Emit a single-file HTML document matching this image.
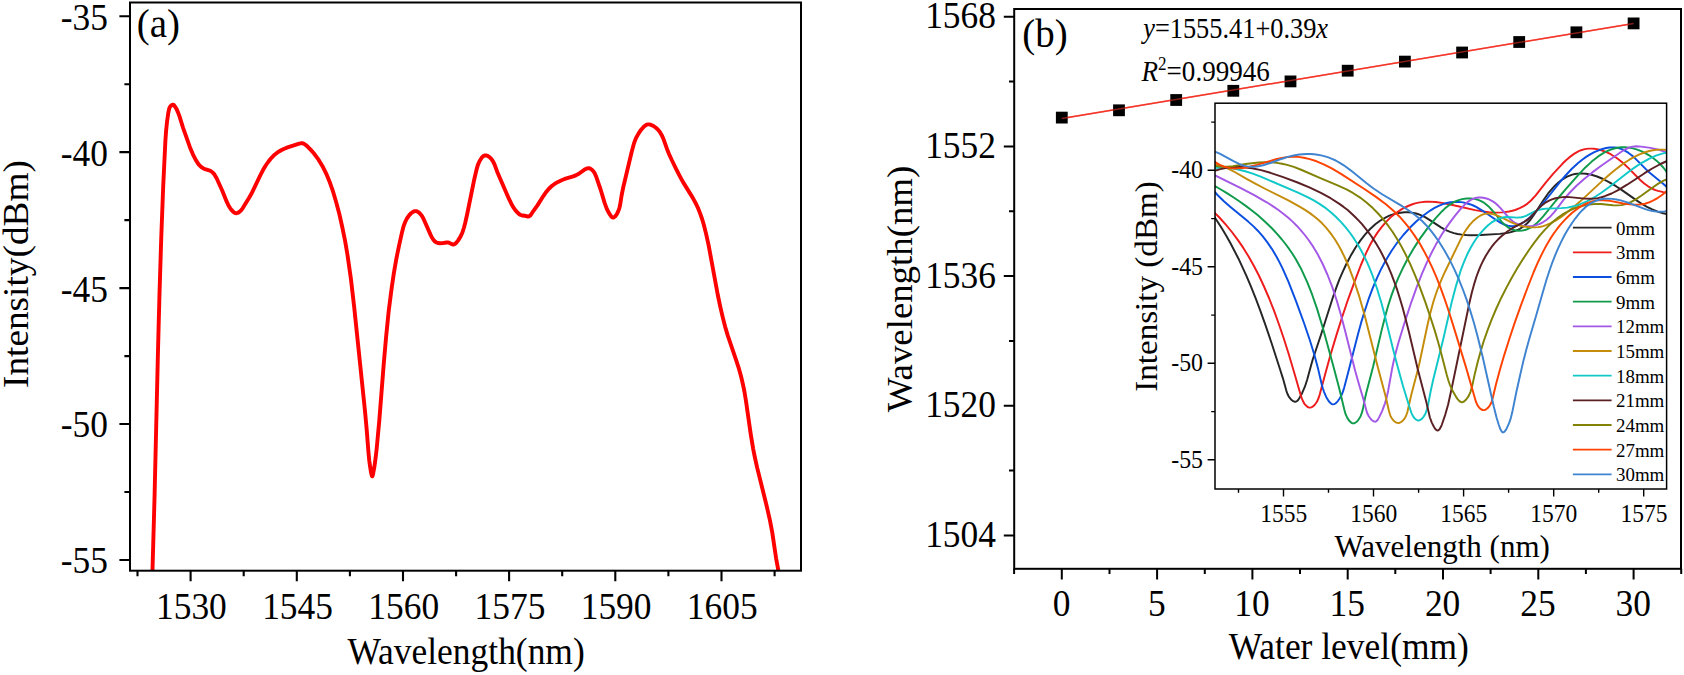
<!DOCTYPE html>
<html lang="en"><head><meta charset="utf-8"><title>Figure</title>
<style>html,body{margin:0;padding:0;background:#fff;overflow:hidden}svg{display:block}</style>
</head><body>
<svg width="1684" height="675" viewBox="0 0 1684 675" font-family="Liberation Serif, Times New Roman, serif" fill="#000">
<rect width="1684" height="675" fill="#fff"/>
<clipPath id="ca"><rect x="130.0" y="2.5" width="671.0" height="568.2"/></clipPath>
<path clip-path="url(#ca)" d="M152.5,570.0 L154.6,495.0 L157.9,354.3 L159.4,297.3 L161.2,238.9 L163.2,186.2 L165.4,140.6 L166.1,130.8 L167.0,122.1 L168.2,113.4 L169.2,108.6 L169.8,107.2 L170.7,106.0 L171.8,105.0 L172.8,104.7 L173.3,104.8 L173.9,105.1 L174.8,106.2 L176.5,108.9 L177.9,112.1 L179.5,116.3 L183.1,127.8 L190.0,147.4 L193.0,154.6 L196.0,160.4 L198.6,164.3 L200.1,165.9 L201.5,167.2 L203.0,168.2 L204.3,168.8 L209.0,170.3 L210.7,171.0 L212.7,172.5 L214.4,174.4 L216.5,178.0 L222.2,190.5 L226.7,201.7 L228.5,205.5 L230.1,208.1 L231.7,210.2 L233.3,211.9 L234.8,212.9 L235.8,213.2 L236.5,213.2 L237.6,212.9 L238.7,212.4 L240.9,210.6 L242.8,208.1 L248.8,198.3 L251.4,193.8 L260.0,175.9 L263.0,170.1 L265.7,165.5 L268.5,161.5 L271.5,157.8 L274.6,154.7 L278.1,152.0 L281.6,150.0 L284.3,148.7 L287.6,147.4 L299.2,143.7 L301.7,143.2 L302.7,143.3 L303.7,143.6 L305.5,144.8 L307.8,146.8 L310.8,149.9 L313.8,153.3 L316.3,156.6 L318.7,159.9 L323.1,167.3 L326.7,174.7 L330.0,182.8 L333.1,191.7 L336.2,202.3 L339.4,214.3 L342.3,227.2 L345.1,240.9 L347.5,255.0 L350.9,278.8 L354.2,307.3 L364.8,409.1 L366.6,428.5 L368.5,452.7 L369.2,460.3 L370.1,466.6 L371.0,472.3 L371.7,475.3 L372.0,476.1 L372.3,476.3 L372.6,475.8 L373.0,474.4 L374.4,466.7 L375.6,458.1 L376.7,448.4 L379.3,420.5 L383.9,361.8 L386.1,337.0 L388.7,311.0 L391.7,287.8 L393.9,272.9 L396.4,258.5 L399.2,244.9 L402.1,231.9 L403.5,226.4 L405.1,222.2 L406.9,218.5 L409.1,215.4 L410.7,213.6 L412.2,212.4 L413.5,211.6 L414.8,211.1 L416.1,211.1 L417.1,211.4 L418.5,212.2 L419.7,213.3 L421.8,215.8 L423.5,218.7 L430.5,234.6 L431.9,237.5 L433.8,240.3 L434.8,241.4 L435.9,242.2 L437.8,243.0 L440.0,243.3 L442.7,243.1 L446.5,242.5 L447.9,242.4 L449.4,242.9 L452.2,244.3 L453.2,244.5 L454.2,244.3 L455.4,243.6 L456.5,242.5 L458.0,240.6 L460.5,236.6 L462.4,232.5 L464.0,227.5 L465.3,222.5 L467.2,214.0 L474.3,179.2 L476.4,170.1 L477.8,165.1 L479.5,161.2 L481.7,157.7 L482.8,156.6 L483.7,155.9 L484.6,155.5 L485.6,155.4 L486.6,155.5 L487.6,155.8 L489.5,157.1 L491.5,159.1 L493.0,161.3 L494.5,164.4 L497.4,172.2 L500.3,179.1 L509.1,199.2 L511.3,203.7 L513.5,207.6 L515.7,210.6 L518.3,213.3 L519.4,214.3 L520.7,215.0 L522.1,215.5 L525.1,215.8 L528.0,216.5 L529.0,216.4 L530.1,215.7 L531.1,214.5 L533.5,210.8 L537.6,205.1 L543.5,195.8 L546.4,191.7 L548.3,189.4 L550.2,187.5 L552.1,185.8 L554.2,184.2 L558.0,181.9 L562.1,180.0 L565.6,178.7 L573.2,176.4 L576.3,175.1 L579.2,173.5 L585.2,169.2 L586.9,168.4 L588.7,168.1 L590.5,168.7 L592.0,169.8 L593.6,171.5 L594.8,173.4 L596.0,176.2 L600.6,189.5 L604.7,203.1 L606.8,208.8 L608.7,212.6 L610.9,216.0 L611.6,216.9 L612.4,217.4 L613.2,217.6 L613.7,217.5 L615.1,216.5 L616.7,214.4 L618.2,211.3 L619.3,208.3 L620.1,205.0 L621.6,195.5 L623.2,187.5 L631.7,151.7 L633.9,143.7 L635.0,140.6 L636.3,137.5 L638.5,133.6 L640.8,130.1 L643.6,127.0 L644.8,125.9 L646.0,125.1 L647.0,124.6 L648.0,124.4 L649.2,124.4 L650.3,124.6 L652.9,125.7 L655.6,127.5 L657.3,129.0 L658.8,130.6 L660.3,132.7 L661.6,134.9 L663.6,139.3 L666.9,148.7 L669.0,154.0 L672.0,160.5 L676.3,169.3 L679.9,176.3 L682.9,181.9 L692.5,197.4 L696.1,204.0 L698.3,208.7 L700.2,213.6 L702.1,219.0 L703.8,224.7 L706.1,233.9 L708.7,245.7 L717.8,295.0 L720.3,306.8 L722.7,317.1 L725.1,326.6 L727.8,335.6 L736.3,360.7 L739.0,368.9 L741.1,376.5 L742.9,384.2 L744.5,392.0 L745.9,400.5 L750.8,434.6 L753.2,449.1 L755.0,458.0 L757.2,467.9 L766.5,505.2 L770.0,520.6 L772.2,532.1 L776.1,558.3 L778.3,570.1" fill="none" stroke="#ff0000" stroke-width="3.9" stroke-linejoin="round" stroke-linecap="butt"/>
<rect x="130.0" y="2.5" width="671.0" height="568.2" fill="none" stroke="#000" stroke-width="2.0"/>
<path d="M190.6,570.7 v10.6 M296.8,570.7 v10.6 M403.0,570.7 v10.6 M509.1,570.7 v10.6 M615.3,570.7 v10.6 M721.5,570.7 v10.6 M137.5,570.7 v5.6 M243.7,570.7 v5.6 M349.9,570.7 v5.6 M456.1,570.7 v5.6 M562.2,570.7 v5.6 M668.4,570.7 v5.6 M774.6,570.7 v5.6 M130.0,16.2 h-10.6 M130.0,152.1 h-10.6 M130.0,288.1 h-10.6 M130.0,424.0 h-10.6 M130.0,560.0 h-10.6 M130.0,84.2 h-5.6 M130.0,220.1 h-5.6 M130.0,356.1 h-5.6 M130.0,492.0 h-5.6" stroke="#000" stroke-width="2.1" fill="none"/>
<text transform="translate(191.40,619.00) scale(0.9500,1.0250)" font-size="37.3" text-anchor="middle" >1530</text>
<text transform="translate(297.58,619.00) scale(0.9500,1.0250)" font-size="37.3" text-anchor="middle" >1545</text>
<text transform="translate(403.76,619.00) scale(0.9500,1.0250)" font-size="37.3" text-anchor="middle" >1560</text>
<text transform="translate(509.94,619.00) scale(0.9500,1.0250)" font-size="37.3" text-anchor="middle" >1575</text>
<text transform="translate(616.12,619.00) scale(0.9500,1.0250)" font-size="37.3" text-anchor="middle" >1590</text>
<text transform="translate(722.30,619.00) scale(0.9500,1.0250)" font-size="37.3" text-anchor="middle" >1605</text>
<text transform="translate(108.00,29.60) scale(0.9500,1.0250)" font-size="37.3" text-anchor="end" >-35</text>
<text transform="translate(108.00,165.55) scale(0.9500,1.0250)" font-size="37.3" text-anchor="end" >-40</text>
<text transform="translate(108.00,301.50) scale(0.9500,1.0250)" font-size="37.3" text-anchor="end" >-45</text>
<text transform="translate(108.00,437.45) scale(0.9500,1.0250)" font-size="37.3" text-anchor="end" >-50</text>
<text transform="translate(108.00,573.40) scale(0.9500,1.0250)" font-size="37.3" text-anchor="end" >-55</text>
<text transform="translate(347.50,664.30) scale(0.9500,1.0250)" font-size="37.3" text-anchor="start" >Wavelength(nm)</text>
<text transform="translate(27.80,388.00) rotate(-90) scale(1.0000,0.9350)" font-size="37.3" text-anchor="start" >Intensity(dBm)</text>
<text transform="translate(136.80,37.00) scale(0.9850,1.0000)" font-size="39.5" text-anchor="start" >(a)</text>
<rect x="1014.2" y="9.0" width="666.8" height="559.8" fill="none" stroke="#000" stroke-width="2.0"/>
<path d="M1061.8,568.8 v10.6 M1157.1,568.8 v10.6 M1252.4,568.8 v10.6 M1347.7,568.8 v10.6 M1443.0,568.8 v10.6 M1538.3,568.8 v10.6 M1633.6,568.8 v10.6 M1014.1,568.8 v5.2 M1109.5,568.8 v5.2 M1204.8,568.8 v5.2 M1300.0,568.8 v5.2 M1395.3,568.8 v5.2 M1490.6,568.8 v5.2 M1585.9,568.8 v5.2 M1681.2,568.8 v5.2 M1014.2,16.7 h-10.4 M1014.2,146.4 h-10.4 M1014.2,276.1 h-10.4 M1014.2,405.8 h-10.4 M1014.2,535.5 h-10.4 M1014.2,81.5 h-5.2 M1014.2,211.2 h-5.2 M1014.2,340.9 h-5.2 M1014.2,470.6 h-5.2" stroke="#000" stroke-width="2.0" fill="none"/>
<text transform="translate(1061.50,616.40) scale(0.9500,1.0250)" font-size="37.3" text-anchor="middle" >0</text>
<text transform="translate(1156.80,616.40) scale(0.9500,1.0250)" font-size="37.3" text-anchor="middle" >5</text>
<text transform="translate(1252.00,616.40) scale(0.9500,1.0250)" font-size="37.3" text-anchor="middle" >10</text>
<text transform="translate(1347.30,616.40) scale(0.9500,1.0250)" font-size="37.3" text-anchor="middle" >15</text>
<text transform="translate(1442.60,616.40) scale(0.9500,1.0250)" font-size="37.3" text-anchor="middle" >20</text>
<text transform="translate(1537.90,616.40) scale(0.9500,1.0250)" font-size="37.3" text-anchor="middle" >25</text>
<text transform="translate(1633.20,616.40) scale(0.9500,1.0250)" font-size="37.3" text-anchor="middle" >30</text>
<text transform="translate(996.00,28.30) scale(0.9500,1.0250)" font-size="37.3" text-anchor="end" >1568</text>
<text transform="translate(996.00,158.00) scale(0.9500,1.0250)" font-size="37.3" text-anchor="end" >1552</text>
<text transform="translate(996.00,287.70) scale(0.9500,1.0250)" font-size="37.3" text-anchor="end" >1536</text>
<text transform="translate(996.00,417.40) scale(0.9500,1.0250)" font-size="37.3" text-anchor="end" >1520</text>
<text transform="translate(996.00,547.10) scale(0.9500,1.0250)" font-size="37.3" text-anchor="end" >1504</text>
<text transform="translate(1228.70,658.70) scale(0.9500,1.0250)" font-size="37.3" text-anchor="start" >Water level(mm)</text>
<text transform="translate(912.00,412.20) rotate(-90) scale(0.9870,0.9800)" font-size="37.3" text-anchor="start" >Wavelength(nm)</text>
<text transform="translate(1022.30,46.60) scale(0.9850,1.0000)" font-size="39.5" text-anchor="start" >(b)</text>
<path d="M1061.8,118.6 L1633.6,23.4" stroke="#f4362a" stroke-width="1.5" fill="none"/>
<rect x="1055.9" y="111.7" width="11.8" height="11.8" fill="#000"/>
<rect x="1113.1" y="104.4" width="11.8" height="11.8" fill="#000"/>
<rect x="1170.3" y="94.1" width="11.8" height="11.8" fill="#000"/>
<rect x="1227.4" y="84.9" width="11.8" height="11.8" fill="#000"/>
<rect x="1284.6" y="75.5" width="11.8" height="11.8" fill="#000"/>
<rect x="1341.8" y="64.8" width="11.8" height="11.8" fill="#000"/>
<rect x="1399.0" y="55.7" width="11.8" height="11.8" fill="#000"/>
<rect x="1456.2" y="46.6" width="11.8" height="11.8" fill="#000"/>
<rect x="1513.3" y="36.1" width="11.8" height="11.8" fill="#000"/>
<rect x="1570.5" y="26.4" width="11.8" height="11.8" fill="#000"/>
<rect x="1627.7" y="17.5" width="11.8" height="11.8" fill="#000"/>
<path d="M1061.8,118.6 L1633.6,23.4" stroke="#f4362a" stroke-width="1.5" fill="none" opacity="0.55"/>
<text transform="translate(1143.20,38.00) scale(0.9250,1.0000)" font-size="28.5" text-anchor="start" ><tspan font-style="italic">y</tspan>=1555.41+0.39<tspan font-style="italic">x</tspan></text>
<text transform="translate(1141.50,80.80) scale(0.9500,1.0000)" font-size="28.5" text-anchor="start" ><tspan font-style="italic">R</tspan><tspan font-size="18" dy="-11">2</tspan><tspan dy="11">=0.99946</tspan></text>
<rect x="1215.0" y="103.2" width="451.5999999999999" height="385.8" fill="#fff" stroke="none"/>
<clipPath id="ci"><rect x="1215.0" y="103.2" width="451.5999999999999" height="385.8"/></clipPath>
<g clip-path="url(#ci)" fill="none" stroke-width="1.95" stroke-linejoin="round">
<path d="M1213.2,215.2 L1217.6,221.7 L1222.1,228.8 L1226.4,236.0 L1230.5,243.3 L1238.5,258.7 L1246.2,275.3 L1250.8,286.2 L1255.6,298.2 L1260.3,310.7 L1265.3,324.7 L1271.7,343.5 L1279.7,368.3 L1283.0,378.6 L1286.3,390.6 L1287.3,393.5 L1288.8,396.7 L1290.8,399.2 L1292.0,400.3 L1293.2,401.2 L1294.5,401.7 L1295.3,401.7 L1296.0,401.6 L1297.1,401.0 L1298.1,400.0 L1299.3,398.3 L1302.3,392.7 L1304.9,386.7 L1307.3,379.3 L1310.9,365.9 L1312.8,359.3 L1321.0,334.7 L1333.0,297.0 L1336.2,287.9 L1339.5,279.2 L1342.8,271.6 L1346.1,264.5 L1350.5,256.1 L1355.4,247.8 L1360.3,240.6 L1365.0,234.6 L1370.1,229.0 L1375.3,224.3 L1380.4,220.5 L1385.9,217.3 L1389.4,215.7 L1393.0,214.4 L1396.8,213.4 L1400.6,212.7 L1404.5,212.3 L1407.8,212.3 L1411.7,212.6 L1415.0,213.3 L1417.8,214.0 L1420.1,214.8 L1425.1,217.2 L1429.9,220.1 L1441.0,227.4 L1444.0,229.1 L1447.1,230.7 L1450.2,231.9 L1453.9,233.1 L1457.6,234.0 L1461.8,234.6 L1466.1,235.0 L1470.5,235.2 L1480.9,235.0 L1499.8,233.9 L1505.2,233.2 L1510.0,232.4 L1515.4,230.8 L1520.0,228.8 L1523.8,226.3 L1527.5,223.0 L1530.6,219.5 L1533.7,215.2 L1543.7,199.7 L1548.3,193.2 L1553.1,187.6 L1555.7,184.9 L1558.4,182.5 L1561.2,180.3 L1564.1,178.4 L1567.1,176.7 L1569.7,175.6 L1572.3,174.6 L1575.0,174.0 L1577.7,173.6 L1580.9,173.4 L1586.0,173.7 L1591.5,174.8 L1597.1,176.5 L1603.1,179.0 L1609.4,182.3 L1616.0,186.2 L1622.3,190.4 L1638.0,201.4 L1642.8,204.5 L1647.0,206.9 L1652.2,209.4 L1657.7,211.6 L1663.1,213.2 L1668.9,214.4" stroke="#262626"/>
<path d="M1212.9,211.0 L1219.4,217.5 L1225.8,224.6 L1231.9,232.0 L1237.6,239.6 L1243.3,247.9 L1248.6,256.5 L1253.8,265.7 L1258.9,275.5 L1264.0,286.5 L1269.2,298.5 L1274.2,311.2 L1279.0,324.5 L1283.7,338.3 L1288.7,354.0 L1294.1,372.2 L1300.9,395.7 L1302.1,399.1 L1303.6,402.4 L1304.7,404.1 L1305.8,405.3 L1306.9,406.4 L1308.1,407.2 L1309.4,407.6 L1310.3,407.6 L1311.1,407.4 L1312.4,406.8 L1313.7,405.9 L1314.8,404.8 L1316.9,401.8 L1318.6,398.0 L1319.7,394.6 L1325.5,372.9 L1331.0,353.1 L1336.5,334.9 L1341.9,317.8 L1348.1,299.3 L1354.7,281.3 L1360.7,265.5 L1365.8,253.7 L1369.6,245.8 L1373.5,238.8 L1377.6,232.4 L1381.8,226.8 L1386.3,221.6 L1390.9,217.1 L1396.0,213.0 L1401.4,209.4 L1404.9,207.5 L1408.1,206.0 L1411.8,204.5 L1415.1,203.4 L1418.5,202.6 L1421.8,202.1 L1425.3,201.7 L1428.7,201.6 L1435.7,202.0 L1443.3,203.1 L1451.4,204.7 L1475.1,210.1 L1482.6,211.4 L1489.0,212.2 L1495.9,212.6 L1502.7,212.4 L1509.0,211.5 L1512.3,210.8 L1515.2,210.0 L1519.7,208.2 L1523.7,206.1 L1527.5,203.6 L1531.0,200.5 L1535.7,195.4 L1546.1,182.2 L1553.3,173.7 L1562.4,163.8 L1566.0,160.3 L1569.3,157.4 L1574.0,153.9 L1576.6,152.3 L1578.8,151.1 L1581.1,150.2 L1583.9,149.4 L1586.2,148.9 L1589.0,148.6 L1591.3,148.6 L1594.1,148.7 L1596.9,149.1 L1599.7,149.8 L1605.3,151.6 L1610.7,154.2 L1616.7,158.0 L1622.8,162.7 L1628.0,167.6 L1640.2,180.0 L1644.2,183.5 L1648.1,186.3 L1652.8,189.0 L1655.5,190.1 L1658.0,190.9 L1663.3,192.1 L1666.1,192.4 L1669.2,192.5" stroke="#ee1c1c"/>
<path d="M1213.2,190.2 L1218.0,195.5 L1223.9,201.2 L1230.5,206.9 L1248.2,221.6 L1253.5,226.4 L1257.8,230.7 L1262.8,236.4 L1267.4,242.4 L1272.0,249.1 L1276.4,256.5 L1279.3,261.9 L1282.3,267.9 L1288.4,281.6 L1296.1,301.3 L1304.0,323.0 L1309.7,339.8 L1314.5,355.3 L1318.0,368.4 L1321.8,384.7 L1322.8,388.2 L1324.0,391.8 L1326.2,396.9 L1328.6,400.9 L1329.7,402.3 L1330.8,403.3 L1331.9,404.1 L1333.0,404.4 L1334.2,404.1 L1335.4,403.5 L1336.6,402.5 L1338.0,400.8 L1339.3,399.0 L1340.7,396.7 L1341.9,394.3 L1343.0,391.4 L1344.2,387.6 L1346.4,379.3 L1358.1,333.8 L1361.2,322.4 L1364.4,312.0 L1368.4,299.7 L1372.5,288.7 L1376.8,278.4 L1381.3,268.7 L1386.3,259.4 L1391.6,250.8 L1397.3,242.5 L1403.3,235.0 L1409.8,227.8 L1416.5,221.3 L1423.7,215.2 L1430.6,210.3 L1434.6,207.9 L1438.7,205.8 L1443.0,204.1 L1446.8,203.0 L1450.7,202.2 L1454.6,201.9 L1458.5,201.9 L1463.0,202.4 L1466.4,203.2 L1469.9,204.2 L1473.3,205.5 L1476.6,207.1 L1482.7,210.8 L1497.2,220.7 L1500.7,222.8 L1504.3,224.5 L1507.8,225.6 L1511.2,226.2 L1514.3,226.1 L1517.8,225.2 L1521.6,223.4 L1525.5,221.0 L1530.0,217.2 L1534.7,212.7 L1539.5,207.6 L1544.2,202.0 L1559.3,182.9 L1565.1,176.0 L1571.6,169.0 L1578.1,163.0 L1582.2,159.7 L1586.1,156.9 L1590.2,154.4 L1594.3,152.1 L1598.6,150.3 L1602.4,149.0 L1606.2,148.0 L1609.5,147.5 L1612.4,147.4 L1614.7,147.5 L1617.1,147.8 L1619.4,148.3 L1621.7,149.1 L1623.9,150.1 L1628.2,152.7 L1631.6,155.2 L1634.9,158.1 L1646.1,169.4 L1649.4,172.5 L1662.8,183.4 L1668.7,188.7" stroke="#0a4fe0"/>
<path d="M1213.1,185.1 L1220.0,189.0 L1226.9,193.1 L1233.7,197.5 L1240.0,201.7 L1246.1,206.1 L1252.2,210.7 L1257.6,215.1 L1262.9,219.7 L1268.0,224.5 L1272.6,229.0 L1277.3,234.1 L1281.5,239.0 L1285.5,244.0 L1289.3,249.2 L1292.6,254.0 L1296.0,259.5 L1301.6,269.8 L1307.0,281.6 L1312.0,294.2 L1317.0,308.6 L1322.8,327.8 L1332.9,364.4 L1339.0,387.6 L1344.3,409.6 L1345.5,413.9 L1347.3,417.9 L1349.5,421.1 L1351.4,422.8 L1352.7,423.3 L1353.6,423.4 L1354.4,423.2 L1355.7,422.5 L1357.0,421.5 L1358.4,419.8 L1360.5,416.5 L1362.0,412.4 L1363.0,408.6 L1364.7,399.8 L1366.1,393.5 L1373.2,366.2 L1381.6,330.4 L1385.4,315.6 L1388.3,305.2 L1391.3,295.9 L1394.6,286.9 L1398.3,277.9 L1403.3,267.2 L1408.5,257.3 L1414.2,247.6 L1420.3,238.1 L1427.6,228.1 L1435.5,218.4 L1442.1,211.2 L1444.8,208.6 L1447.7,206.2 L1451.1,203.8 L1454.7,201.7 L1458.6,200.1 L1462.1,199.1 L1466.5,198.5 L1470.5,198.4 L1474.4,198.9 L1478.1,199.8 L1480.6,200.8 L1483.4,202.3 L1485.9,204.2 L1488.3,206.2 L1492.4,210.5 L1502.0,222.1 L1504.7,224.8 L1507.6,227.1 L1511.2,229.2 L1514.7,230.3 L1518.5,230.8 L1522.2,230.6 L1525.8,229.8 L1529.6,228.2 L1533.2,226.0 L1537.0,222.9 L1540.2,219.7 L1543.2,216.4 L1555.6,201.0 L1566.2,188.6 L1577.7,175.6 L1585.1,167.7 L1591.7,161.6 L1598.2,156.4 L1604.1,152.7 L1607.3,151.0 L1610.2,149.8 L1614.1,148.5 L1617.5,147.7 L1621.1,147.3 L1625.2,147.3 L1628.8,147.6 L1633.0,148.4 L1637.2,149.6 L1641.2,151.2 L1645.2,153.1 L1649.1,155.3 L1652.8,157.8 L1656.8,160.9 L1660.4,164.3 L1663.3,167.5 L1665.9,170.8 L1668.2,174.3" stroke="#0f9b4b"/>
<path d="M1213.4,174.5 L1240.3,187.8 L1253.8,194.8 L1266.7,202.3 L1272.7,206.1 L1278.1,209.8 L1283.3,213.7 L1288.3,217.7 L1292.6,221.6 L1296.7,225.7 L1300.9,230.3 L1304.8,235.0 L1308.6,240.0 L1312.1,245.1 L1317.7,254.3 L1322.7,264.0 L1327.6,275.0 L1332.2,286.9 L1336.6,300.0 L1340.8,314.5 L1344.7,329.2 L1355.1,370.5 L1358.1,381.2 L1363.4,399.3 L1366.7,411.7 L1367.5,413.8 L1368.5,415.8 L1370.5,418.7 L1371.7,420.0 L1373.1,421.0 L1374.5,421.6 L1375.3,421.7 L1376.1,421.4 L1377.1,420.6 L1378.0,419.4 L1379.1,417.4 L1382.2,410.9 L1385.0,403.3 L1386.6,397.7 L1388.1,391.0 L1392.0,369.3 L1393.6,361.5 L1395.7,352.7 L1398.4,342.8 L1403.6,325.8 L1411.1,302.8 L1416.7,287.2 L1422.1,273.4 L1426.8,262.7 L1431.6,252.7 L1436.5,243.4 L1441.9,234.3 L1447.8,225.4 L1453.9,217.2 L1460.8,208.7 L1465.7,203.6 L1468.2,201.6 L1470.8,199.9 L1473.0,198.8 L1475.4,198.0 L1478.0,197.5 L1480.7,197.5 L1483.3,197.8 L1486.5,198.5 L1489.0,199.4 L1491.4,200.6 L1493.6,201.9 L1496.1,203.8 L1500.3,207.9 L1506.9,215.5 L1509.9,218.7 L1512.7,221.2 L1515.8,223.2 L1517.7,224.1 L1520.1,225.0 L1522.6,225.7 L1525.2,226.1 L1530.0,226.2 L1532.6,225.9 L1535.2,225.4 L1539.2,224.1 L1542.9,222.3 L1546.3,220.0 L1549.5,217.3 L1552.0,214.6 L1554.5,211.8 L1564.1,199.2 L1569.4,193.0 L1576.5,185.8 L1584.4,178.7 L1592.3,172.4 L1601.2,165.7 L1621.0,152.0 L1625.9,149.0 L1629.1,147.5 L1632.6,146.6 L1636.3,146.3 L1641.2,146.6 L1650.4,147.9 L1657.5,149.4 L1663.5,151.2 L1668.6,153.4" stroke="#a458e6"/>
<path d="M1212.9,164.5 L1216.7,165.0 L1220.8,165.9 L1225.2,167.4 L1229.6,169.3 L1234.7,172.0 L1246.6,178.9 L1254.8,183.4 L1264.5,188.5 L1288.4,200.4 L1300.4,207.1 L1305.4,210.1 L1310.2,213.4 L1314.3,216.5 L1318.3,219.8 L1322.1,223.3 L1325.6,227.1 L1328.9,231.1 L1332.0,235.2 L1335.0,239.5 L1338.0,244.4 L1340.8,249.5 L1343.4,254.7 L1346.1,260.5 L1348.6,266.4 L1353.9,280.3 L1359.4,296.9 L1364.7,315.6 L1377.9,367.6 L1385.6,396.3 L1388.8,410.3 L1389.7,413.5 L1390.4,415.6 L1391.3,417.5 L1392.5,419.2 L1393.4,420.4 L1394.6,421.5 L1395.8,422.3 L1397.1,422.9 L1398.5,423.0 L1399.8,422.7 L1401.1,422.0 L1402.3,421.1 L1403.7,419.6 L1404.7,418.3 L1405.7,416.5 L1406.5,414.6 L1407.4,412.0 L1411.4,394.2 L1417.1,372.7 L1419.3,363.7 L1426.8,328.2 L1429.7,315.3 L1433.3,302.0 L1435.2,296.0 L1437.3,290.0 L1440.7,281.3 L1445.0,271.7 L1461.4,237.9 L1464.2,232.8 L1466.8,228.8 L1469.7,224.9 L1472.7,221.6 L1476.8,218.0 L1479.0,216.5 L1481.3,215.2 L1483.1,214.4 L1484.9,213.9 L1486.8,213.6 L1489.1,213.5 L1492.9,214.1 L1496.7,215.3 L1501.0,217.1 L1510.4,221.8 L1514.4,223.7 L1519.0,225.3 L1523.7,226.5 L1529.4,227.3 L1535.1,227.4 L1538.2,227.1 L1540.7,226.7 L1543.2,226.1 L1546.1,225.1 L1550.8,223.1 L1555.9,220.4 L1561.6,216.6 L1568.0,211.8 L1573.7,207.1 L1580.0,201.6 L1601.5,181.6 L1610.4,173.7 L1615.3,169.7 L1620.3,165.9 L1625.0,162.5 L1629.4,159.7 L1634.3,156.8 L1639.5,154.3 L1644.3,152.5 L1649.2,151.0 L1654.3,150.0 L1659.0,149.6 L1663.8,149.6 L1668.7,150.1" stroke="#c48c0a"/>
<path d="M1212.8,168.3 L1216.6,167.9 L1220.9,167.7 L1224.6,167.8 L1228.8,168.0 L1232.8,168.5 L1236.8,169.2 L1245.2,171.2 L1252.8,173.6 L1261.3,176.9 L1298.0,192.7 L1306.5,196.6 L1313.3,200.2 L1319.5,203.9 L1325.0,207.6 L1330.5,212.0 L1335.8,216.7 L1341.1,222.1 L1346.1,227.8 L1350.1,233.0 L1353.9,238.4 L1357.4,244.0 L1360.8,249.8 L1363.9,255.7 L1367.0,262.1 L1369.9,268.8 L1372.7,276.0 L1377.1,288.8 L1381.5,303.3 L1385.5,318.4 L1393.4,350.5 L1397.6,366.6 L1403.0,386.0 L1408.9,405.3 L1411.4,412.8 L1412.3,414.8 L1413.3,416.6 L1414.5,418.2 L1416.0,419.5 L1417.2,420.2 L1418.5,420.5 L1419.7,420.2 L1421.0,419.4 L1422.2,418.4 L1423.5,416.8 L1424.7,415.1 L1425.6,413.2 L1427.0,409.3 L1427.9,405.7 L1430.8,390.5 L1433.2,379.8 L1443.4,338.4 L1451.6,302.6 L1456.1,285.6 L1460.5,271.2 L1462.8,264.8 L1465.4,258.6 L1467.9,253.0 L1470.8,247.5 L1473.6,242.7 L1476.7,238.0 L1480.1,233.6 L1483.5,229.8 L1487.8,225.5 L1492.2,222.1 L1496.5,219.6 L1498.8,218.7 L1501.1,217.9 L1504.0,217.3 L1507.1,217.0 L1517.2,217.6 L1521.3,217.3 L1523.7,216.7 L1526.0,215.8 L1535.2,211.1 L1537.6,210.2 L1540.0,209.6 L1543.1,209.0 L1546.7,208.6 L1561.1,208.1 L1567.3,207.6 L1571.3,206.8 L1575.2,205.9 L1579.0,204.7 L1582.7,203.2 L1586.8,201.4 L1591.2,199.1 L1596.0,196.3 L1600.6,193.2 L1608.9,187.2 L1630.7,170.3 L1637.0,165.9 L1642.7,162.3 L1649.4,158.6 L1655.9,155.7 L1662.2,153.6 L1668.9,152.1" stroke="#10c8c8"/>
<path d="M1212.7,171.6 L1216.6,170.2 L1220.4,169.1 L1224.2,168.2 L1228.0,167.6 L1231.6,167.2 L1235.8,166.9 L1239.9,166.9 L1244.0,167.2 L1252.1,168.2 L1261.0,170.1 L1270.4,172.8 L1283.2,177.2 L1297.6,182.5 L1309.9,187.6 L1320.9,192.9 L1330.6,198.2 L1339.4,203.9 L1343.6,206.9 L1347.7,210.1 L1351.2,213.2 L1354.9,216.7 L1358.5,220.4 L1362.0,224.2 L1366.6,229.8 L1371.2,236.0 L1375.5,242.6 L1379.8,249.7 L1383.7,257.2 L1387.6,265.2 L1391.1,273.4 L1394.5,282.3 L1397.3,290.2 L1399.8,298.2 L1402.5,307.2 L1405.1,316.9 L1409.0,332.2 L1417.7,369.0 L1425.8,399.9 L1429.9,417.5 L1431.8,422.6 L1433.9,426.8 L1435.1,428.7 L1436.1,429.8 L1437.0,430.4 L1437.7,430.5 L1438.6,430.1 L1439.7,429.0 L1440.8,427.1 L1441.8,424.8 L1445.3,414.6 L1448.2,404.3 L1451.6,388.8 L1469.1,304.3 L1471.9,292.3 L1474.6,282.6 L1476.5,276.5 L1478.7,270.6 L1480.9,265.4 L1483.4,260.2 L1485.8,255.7 L1488.5,251.4 L1491.4,247.2 L1494.6,243.2 L1497.7,239.8 L1500.6,237.0 L1504.1,234.0 L1507.3,231.5 L1512.9,227.9 L1524.0,222.0 L1528.3,219.1 L1531.8,215.9 L1538.6,208.4 L1541.7,205.5 L1545.0,202.9 L1549.1,200.6 L1551.9,199.4 L1555.5,198.3 L1559.1,197.6 L1562.8,197.1 L1565.9,197.0 L1569.7,197.1 L1584.5,198.6 L1590.7,198.8 L1594.3,198.6 L1597.9,198.1 L1601.4,197.3 L1604.8,196.2 L1611.6,193.5 L1618.6,189.9 L1627.1,184.7 L1644.6,173.2 L1652.2,168.5 L1660.5,164.0 L1664.8,162.0 L1668.7,160.4" stroke="#5a2024"/>
<path d="M1212.9,165.3 L1216.4,166.1 L1219.8,166.6 L1223.2,166.8 L1226.9,166.7 L1233.0,166.1 L1245.7,164.0 L1252.0,163.2 L1258.8,162.5 L1265.7,162.3 L1271.6,162.4 L1276.8,162.9 L1282.0,163.7 L1287.1,164.9 L1293.8,166.9 L1301.7,170.0 L1319.8,177.9 L1337.6,185.3 L1346.5,189.4 L1353.3,193.2 L1360.1,197.6 L1366.5,202.5 L1372.8,208.1 L1378.1,213.5 L1383.1,219.2 L1387.8,225.2 L1392.5,231.8 L1397.1,239.1 L1401.5,246.6 L1405.8,254.8 L1410.0,263.7 L1414.9,274.9 L1420.0,287.6 L1425.5,302.6 L1430.7,318.0 L1434.6,330.1 L1438.1,342.0 L1441.7,355.3 L1446.8,375.0 L1448.3,380.2 L1449.7,384.3 L1452.7,391.1 L1455.9,396.6 L1457.6,399.1 L1459.2,400.9 L1460.6,401.9 L1461.7,402.2 L1462.8,402.0 L1464.0,401.5 L1466.2,399.5 L1468.6,396.1 L1470.4,392.1 L1472.0,386.9 L1474.9,373.4 L1477.7,362.1 L1480.6,351.4 L1483.7,341.3 L1487.6,330.1 L1491.7,319.4 L1496.3,308.5 L1501.3,297.7 L1506.3,287.9 L1511.5,278.2 L1517.1,268.6 L1523.0,259.1 L1529.0,250.0 L1534.5,242.4 L1539.9,235.4 L1545.0,229.6 L1548.4,226.1 L1551.8,222.8 L1555.4,219.7 L1558.8,217.1 L1562.2,214.7 L1565.8,212.5 L1569.5,210.5 L1573.3,208.8 L1578.1,207.0 L1582.7,205.7 L1587.3,204.8 L1592.1,204.2 L1596.4,203.9 L1600.8,204.0 L1612.9,205.2 L1617.2,205.4 L1621.4,205.1 L1625.9,204.0 L1630.7,202.1 L1635.4,199.6 L1641.2,195.8 L1653.0,187.2 L1658.3,183.6 L1663.6,180.7 L1666.1,179.6 L1668.6,178.7" stroke="#828206"/>
<path d="M1213.0,160.4 L1215.7,162.4 L1218.5,164.1 L1221.3,165.5 L1224.1,166.6 L1226.9,167.4 L1230.2,168.1 L1233.1,168.4 L1236.5,168.4 L1242.8,168.0 L1249.7,166.7 L1256.7,164.9 L1276.0,159.3 L1281.9,157.9 L1286.8,157.1 L1292.5,156.7 L1298.2,156.9 L1303.8,157.7 L1309.8,159.1 L1316.6,161.3 L1324.3,164.6 L1332.2,168.7 L1341.4,174.1 L1364.0,188.8 L1376.0,196.9 L1385.9,204.3 L1394.0,211.3 L1399.6,216.7 L1404.8,222.6 L1409.7,228.7 L1414.6,235.6 L1419.5,243.1 L1423.9,250.9 L1428.3,259.4 L1432.6,268.4 L1436.6,277.6 L1440.6,287.8 L1444.5,298.6 L1448.6,310.8 L1453.5,326.4 L1465.8,366.6 L1476.0,401.9 L1477.4,405.2 L1479.2,407.6 L1480.2,408.6 L1481.4,409.5 L1482.7,410.0 L1483.5,410.1 L1484.4,410.0 L1485.6,409.6 L1486.8,408.8 L1488.0,407.8 L1488.9,406.7 L1490.1,405.0 L1491.6,401.8 L1492.6,398.4 L1496.0,384.2 L1499.5,371.2 L1504.2,355.1 L1509.4,338.7 L1515.0,321.9 L1521.0,305.2 L1527.8,287.0 L1533.9,271.5 L1537.3,263.7 L1540.5,256.8 L1543.6,250.6 L1546.9,244.5 L1550.2,238.9 L1553.4,234.0 L1556.9,229.2 L1560.5,224.6 L1564.1,220.6 L1567.9,216.7 L1571.9,213.0 L1575.8,209.9 L1579.5,207.3 L1583.3,205.0 L1587.2,203.1 L1590.9,201.8 L1594.2,200.9 L1597.0,200.4 L1600.0,200.1 L1603.5,200.2 L1610.1,200.9 L1623.3,203.5 L1629.7,204.4 L1635.9,204.7 L1638.8,204.6 L1641.7,204.3 L1645.0,203.7 L1647.8,202.8 L1651.1,201.5 L1654.3,199.9 L1657.9,197.8 L1661.3,195.5 L1668.5,189.9" stroke="#ff4200"/>
<path d="M1213.1,151.1 L1216.1,152.1 L1219.7,153.7 L1233.5,161.2 L1239.1,163.9 L1242.2,165.1 L1244.8,165.9 L1247.3,166.4 L1250.4,166.7 L1253.4,166.7 L1256.4,166.5 L1259.5,166.0 L1263.0,165.2 L1269.5,163.3 L1282.2,158.7 L1287.8,156.9 L1293.6,155.5 L1299.3,154.5 L1306.7,154.0 L1310.4,154.0 L1314.0,154.3 L1317.6,154.7 L1321.2,155.4 L1327.7,157.1 L1332.0,158.8 L1335.7,160.5 L1339.8,162.8 L1343.8,165.3 L1351.0,170.6 L1366.6,183.3 L1373.5,188.5 L1382.5,194.5 L1400.9,205.4 L1408.4,210.2 L1416.0,215.7 L1419.6,218.7 L1422.6,221.5 L1428.0,227.1 L1433.2,233.6 L1438.7,241.3 L1444.0,249.7 L1449.2,258.9 L1453.9,268.4 L1458.5,278.6 L1462.9,289.5 L1466.8,300.1 L1470.3,310.9 L1473.9,322.7 L1477.3,335.2 L1482.7,357.1 L1493.7,406.2 L1496.6,417.8 L1498.7,424.5 L1500.4,429.3 L1501.7,431.5 L1502.5,432.3 L1503.1,432.4 L1503.7,432.3 L1504.6,431.6 L1505.5,430.4 L1506.7,428.4 L1509.0,423.4 L1510.8,418.1 L1512.2,412.6 L1516.4,391.8 L1520.0,375.7 L1523.0,362.6 L1526.2,350.1 L1529.6,337.8 L1535.8,316.7 L1543.4,290.2 L1546.4,280.0 L1549.4,270.8 L1552.4,262.3 L1555.3,254.9 L1558.2,248.1 L1561.4,241.4 L1564.5,235.3 L1568.0,229.3 L1571.7,223.5 L1575.4,218.3 L1579.1,213.7 L1582.3,210.2 L1585.7,207.0 L1589.4,204.2 L1592.9,202.1 L1596.6,200.5 L1600.1,199.5 L1604.3,198.8 L1608.1,198.7 L1612.0,198.9 L1616.4,199.5 L1620.8,200.4 L1628.0,202.6 L1644.6,208.9 L1648.5,210.1 L1652.5,211.0 L1656.6,211.6 L1660.9,211.7 L1664.8,211.4 L1668.8,210.6" stroke="#3f84d0"/>
</g>
<rect x="1215.0" y="103.2" width="451.5999999999999" height="385.8" fill="none" stroke="#000" stroke-width="1.5"/>
<path d="M1283.5,489.0 v7.4 M1373.5,489.0 v7.4 M1463.6,489.0 v7.4 M1553.7,489.0 v7.4 M1643.7,489.0 v7.4 M1238.5,489.0 v3.8 M1328.5,489.0 v3.8 M1418.6,489.0 v3.8 M1508.6,489.0 v3.8 M1598.7,489.0 v3.8 M1688.7,489.0 v3.8 M1215.0,170.3 h-7.4 M1215.0,266.8 h-7.4 M1215.0,363.3 h-7.4 M1215.0,459.8 h-7.4 M1215.0,122.1 h-3.8 M1215.0,218.6 h-3.8 M1215.0,315.1 h-3.8 M1215.0,411.6 h-3.8" stroke="#000" stroke-width="1.4" fill="none"/>
<text transform="translate(1283.70,521.60) scale(0.9550,1.0000)" font-size="24.6" text-anchor="middle" >1555</text>
<text transform="translate(1373.75,521.60) scale(0.9550,1.0000)" font-size="24.6" text-anchor="middle" >1560</text>
<text transform="translate(1463.80,521.60) scale(0.9550,1.0000)" font-size="24.6" text-anchor="middle" >1565</text>
<text transform="translate(1553.85,521.60) scale(0.9550,1.0000)" font-size="24.6" text-anchor="middle" >1570</text>
<text transform="translate(1643.90,521.60) scale(0.9550,1.0000)" font-size="24.6" text-anchor="middle" >1575</text>
<text transform="translate(1203.00,178.10) scale(0.9700,1.0300)" font-size="24.6" text-anchor="end" >-40</text>
<text transform="translate(1203.00,274.60) scale(0.9700,1.0300)" font-size="24.6" text-anchor="end" >-45</text>
<text transform="translate(1203.00,371.10) scale(0.9700,1.0300)" font-size="24.6" text-anchor="end" >-50</text>
<text transform="translate(1203.00,467.60) scale(0.9700,1.0300)" font-size="24.6" text-anchor="end" >-55</text>
<text transform="translate(1334.50,556.80) scale(0.9880,1.0000)" font-size="31.4" text-anchor="start" >Wavelength (nm)</text>
<text transform="translate(1157.00,391.80) rotate(-90) scale(1.0750,1.0000)" font-size="30.8" text-anchor="start" >Intensity (dBm)</text>
<path d="M1572.9,227.6 H1611.6" stroke="#262626" stroke-width="1.8" fill="none"/>
<text transform="translate(1616.00,234.50) scale(0.9800,1.0200)" font-size="19.3" text-anchor="start" >0mm</text>
<path d="M1572.9,252.3 H1611.6" stroke="#ee1c1c" stroke-width="1.8" fill="none"/>
<text transform="translate(1616.00,259.18) scale(0.9800,1.0200)" font-size="19.3" text-anchor="start" >3mm</text>
<path d="M1572.9,277.0 H1611.6" stroke="#0a4fe0" stroke-width="1.8" fill="none"/>
<text transform="translate(1616.00,283.86) scale(0.9800,1.0200)" font-size="19.3" text-anchor="start" >6mm</text>
<path d="M1572.9,301.6 H1611.6" stroke="#0f9b4b" stroke-width="1.8" fill="none"/>
<text transform="translate(1616.00,308.54) scale(0.9800,1.0200)" font-size="19.3" text-anchor="start" >9mm</text>
<path d="M1572.9,326.3 H1611.6" stroke="#a458e6" stroke-width="1.8" fill="none"/>
<text transform="translate(1616.00,333.22) scale(0.9800,1.0200)" font-size="19.3" text-anchor="start" >12mm</text>
<path d="M1572.9,351.0 H1611.6" stroke="#c48c0a" stroke-width="1.8" fill="none"/>
<text transform="translate(1616.00,357.90) scale(0.9800,1.0200)" font-size="19.3" text-anchor="start" >15mm</text>
<path d="M1572.9,375.7 H1611.6" stroke="#10c8c8" stroke-width="1.8" fill="none"/>
<text transform="translate(1616.00,382.58) scale(0.9800,1.0200)" font-size="19.3" text-anchor="start" >18mm</text>
<path d="M1572.9,400.4 H1611.6" stroke="#5a2024" stroke-width="1.8" fill="none"/>
<text transform="translate(1616.00,407.26) scale(0.9800,1.0200)" font-size="19.3" text-anchor="start" >21mm</text>
<path d="M1572.9,425.0 H1611.6" stroke="#828206" stroke-width="1.8" fill="none"/>
<text transform="translate(1616.00,431.94) scale(0.9800,1.0200)" font-size="19.3" text-anchor="start" >24mm</text>
<path d="M1572.9,449.7 H1611.6" stroke="#ff4200" stroke-width="1.8" fill="none"/>
<text transform="translate(1616.00,456.62) scale(0.9800,1.0200)" font-size="19.3" text-anchor="start" >27mm</text>
<path d="M1572.9,474.4 H1611.6" stroke="#3f84d0" stroke-width="1.8" fill="none"/>
<text transform="translate(1616.00,481.30) scale(0.9800,1.0200)" font-size="19.3" text-anchor="start" >30mm</text>
</svg>
</body></html>
